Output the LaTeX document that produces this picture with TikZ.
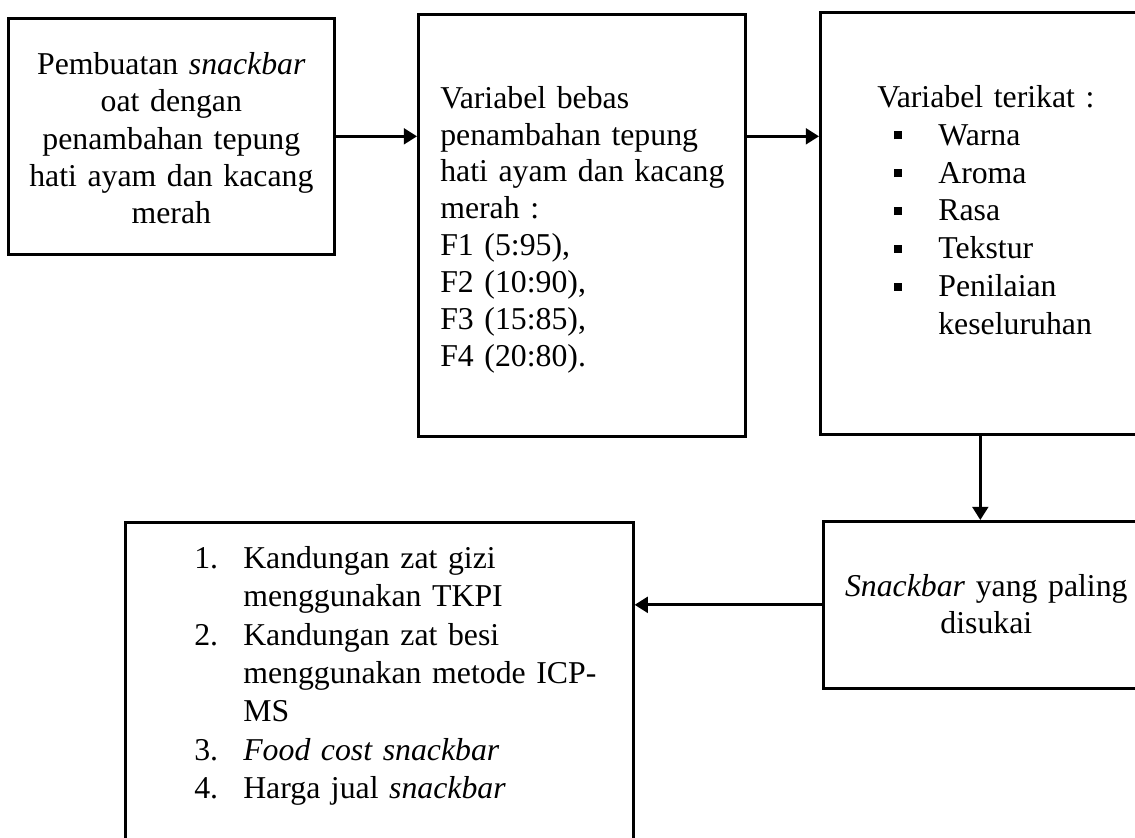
\documentclass[tikz,border=0pt]{standalone}
\usepackage{fontspec}
\setmainfont{Liberation Serif}
\usetikzlibrary{arrows.meta}
\newdimen\pxu \pxu=0.3776pt
\newcommand{\sqb}{\makebox[61\pxu][l]{\hspace*{17\pxu}\rule[2.2pt]{3pt}{3pt}}}
\newcommand{\itmno}[1]{\makebox[49\pxu][l]{#1}}

\begin{document}
\begin{tikzpicture}[x=0.3776pt, y=-0.3776pt,
    blk/.style={draw, line width=1pt, anchor=north west, inner ysep=0pt,
      font=\fontsize{12pt}{14.1pt}\selectfont},
    >={Triangle[length=5pt,width=6pt]}]
    \useasboundingbox (0,0) rectangle (1135,838);

    % top row
    \node[blk, align=center, inner xsep=10\pxu, text width=306\pxu,
      text height=56\pxu, text depth=180\pxu] (pbt) at (7,17)
      {Pembuatan \textit{snackbar}\\ oat dengan\\ penambahan tepung\\
       \mbox{hati ayam dan kacang}\\ merah};
    \node[blk, align=left, inner xsep=22\pxu, text width=283\pxu,
      text height=94\pxu, text depth=328\pxu,
      font=\fontsize{12pt}{13.9pt}\selectfont] (vbb) at (417,13)
      {Variabel bebas\\ penambahan tepung\\ \mbox{hati ayam dan kacang}\\ merah :\\
       F1 (5:95),\\ F2 (10:90),\\ F3 (15:85),\\ F4 (20:80).};
    \node[blk, align=left, inner xsep=57\pxu, text width=266\pxu,
      text height=95\pxu, text depth=327\pxu,
      font=\fontsize{12pt}{14.3pt}\selectfont] (vtk) at (819,11)
      {Variabel terikat :\\ \sqb Warna\\ \sqb Aroma\\ \sqb Rasa\\ \sqb Tekstur\\
       \sqb Penilaian\\ \hspace*{61\pxu}keseluruhan};

    % bottom row
    \node[blk, align=center, inner xsep=10\pxu, text width=306\pxu,
      text height=75\pxu, text depth=92\pxu] (sdk) at (822,520)
      {\textit{Snackbar} yang paling\\ disukai};
    \node[blk, align=left, inner xsep=69\pxu, text width=370\pxu,
      text height=46\pxu, text depth=330\pxu,
      font=\fontsize{12pt}{14.5pt}\selectfont] (hsl) at (124,521)
      {\itmno{1.}Kandungan zat gizi\\ \hspace*{49\pxu}menggunakan TKPI\\
       \itmno{2.}Kandungan zat besi\\ \mbox{\hspace*{49\pxu}menggunakan metode ICP-}\\
       \hspace*{49\pxu}MS\\ \itmno{3.}\textit{Food cost snackbar}\\
       \itmno{4.}Harga jual \textit{snackbar}};

    \draw[->, line width=1pt] (pbt.east) -- (pbt.east -| vbb.west);
    \draw[->, line width=1pt] (vbb.east |- pbt.east) -- (vtk.west |- pbt.east);
    \draw[->, line width=1pt] ([xshift=-6\pxu]sdk.north |- vtk.south) -- ([xshift=-6\pxu]sdk.north);
    \draw[->, line width=1pt] (sdk.west) -- (sdk.west -| hsl.east);
\end{tikzpicture}
\end{document}
